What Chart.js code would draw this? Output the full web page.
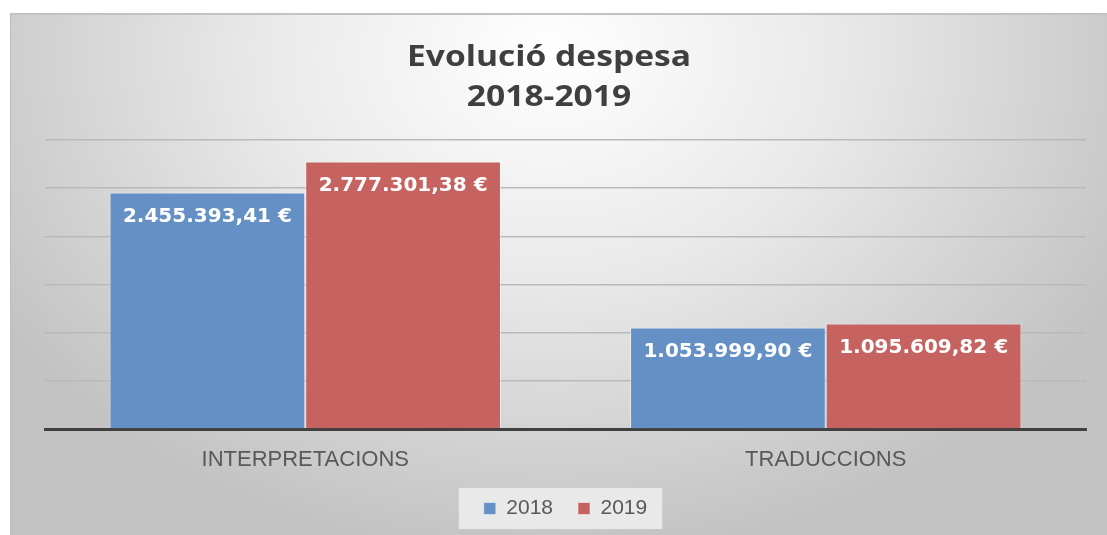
<!DOCTYPE html>
<html>
<head>
<meta charset="utf-8">
<script src="https://cdn.jsdelivr.net/npm/chart.js@4.4.0/dist/chart.umd.min.js"></script>
<style>
  html, body { margin: 0; padding: 0; background: #fff; overflow: hidden; }
  .chart-wrapper {
    position: absolute;
    left: 10px;
    top: 13px;
    width: 1097px;
    height: 522px;
    border-top: 2px solid #c2c2c2;
    border-left: 1px solid #bdbdbd;
  }
</style>
</head>
<body>
<div class="chart-wrapper"><canvas id="spend-chart"></canvas></div>
<script>
const titleLines = ["Evolució despesa", "2018-2019"];
const categories = ["INTERPRETACIONS", "TRADUCCIONS"];
const years = ["2018", "2019"];
const spend2018 = [2455393.41, 1053999.9];
const spend2019 = [2777301.38, 1095609.82];
const yMax = 3000000;
const yStep = 500000;

function formatEuro(v) {
  const parts = v.toFixed(2).split(".");
  const whole = parts[0].replace(/\B(?=(\d{3})+(?!\d))/g, ".");
  return whole + "," + parts[1] + " €";
}

// radial grey background like the office chart
const backgroundPlugin = {
  id: "bgGradient",
  beforeDraw(chart) {
    const { ctx, width, height } = chart;
    ctx.save();
    ctx.translate(538, 40);
    ctx.scale(1, 0.78);
    const g = ctx.createRadialGradient(0, 0, 0, 0, 0, 640);
    g.addColorStop(0, "#ffffff");
    g.addColorStop(0.45, "#e9e9e9");
    g.addColorStop(1, "#c3c3c3");
    ctx.fillStyle = g;
    ctx.fillRect(-600, -100, width + 200, (height + 300) / 0.78);
    ctx.restore();
  },
};

// title drawn centred on the whole chart box (slightly wide, like the original)
const titlePlugin = {
  id: "wideTitle",
  afterDraw(chart) {
    const { ctx } = chart;
    ctx.save();
    ctx.font = "bold 28px 'Open Sans'";
    ctx.fillStyle = "#3f3f3f";
    ctx.textAlign = "center";
    ctx.textBaseline = "middle";
    titleLines.forEach((line, i) => {
      ctx.save();
      ctx.translate(538, 43 + i * 40);
      ctx.scale(1.2, 1);
      ctx.fillText(line, 0, 0);
      ctx.restore();
    });
    ctx.restore();
  },
};

// box behind the legend
const legendBoxPlugin = {
  id: "legendBox",
  beforeDraw(chart) {
    const lg = chart.legend;
    if (!lg || !lg.legendHitBoxes || lg.legendHitBoxes.length === 0) return;
    const boxes = lg.legendHitBoxes;
    const left = boxes[0].left - 25;
    const right = boxes[boxes.length - 1].left + boxes[boxes.length - 1].width + 15;
    const cy = boxes[0].top + boxes[0].height / 2;
    const { ctx } = chart;
    ctx.save();
    ctx.fillStyle = "rgba(236,236,236,0.9)";
    ctx.fillRect(left, cy - 20.5, right - left, 41);
    ctx.restore();
  },
};

// value labels inside the top of each bar
const barLabelPlugin = {
  id: "barLabels",
  afterDatasetsDraw(chart) {
    const { ctx } = chart;
    ctx.save();
    ctx.font = "bold 20px 'DejaVu Sans'";
    ctx.fillStyle = "#ffffff";
    ctx.textAlign = "center";
    ctx.textBaseline = "middle";
    chart.data.datasets.forEach((ds, i) => {
      const meta = chart.getDatasetMeta(i);
      meta.data.forEach((bar, j) => {
        ctx.fillText(formatEuro(ds.data[j]), bar.x, bar.y + 24);
      });
    });
    ctx.restore();
  },
};

const ctx = document.getElementById("spend-chart").getContext("2d");
new Chart(ctx, {
  type: "bar",
  data: {
    labels: categories,
    datasets: [
      {
        label: years[0],
        data: spend2018,
        backgroundColor: "#6590c5",
        borderColor: "rgba(255,255,255,0.45)",
        borderWidth: 1,
      },
      {
        label: years[1],
        data: spend2019,
        backgroundColor: "#c6625f",
        borderColor: "rgba(255,255,255,0.45)",
        borderWidth: 1,
      },
    ],
  },
  options: {
    responsive: true,
    maintainAspectRatio: false,
    animation: false,
    layout: {
      padding: { left: 34, right: 22, top: 125, bottom: 8 },
    },
    datasets: {
      bar: { categoryPercentage: 0.752, barPercentage: 1.0 },
    },
    plugins: {
      title: { display: false },
      legend: {
        display: true,
        position: "bottom",
        labels: {
          boxWidth: 12,
          boxHeight: 12,
          padding: 25,
          color: "#595959",
          font: { family: "'Liberation Sans'", size: 21 },
        },
      },
      tooltip: { enabled: false },
    },
    scales: {
      x: {
        grid: { display: false, drawTicks: false },
        border: { display: true, color: "#404040", width: 3 },
        ticks: {
          color: "#595959",
          padding: 18,
          font: { family: "'Liberation Sans'", size: 22 },
        },
        afterFit(scale) {
          scale.height = 44;
        },
      },
      y: {
        min: 0,
        max: yMax,
        grid: { color: "#b9b9b9", lineWidth: 1.5, drawTicks: false },
        border: { display: false },
        ticks: { display: false, stepSize: yStep },
      },
    },
  },
  plugins: [backgroundPlugin, legendBoxPlugin, barLabelPlugin, titlePlugin],
});
</script>
</body>
</html>
